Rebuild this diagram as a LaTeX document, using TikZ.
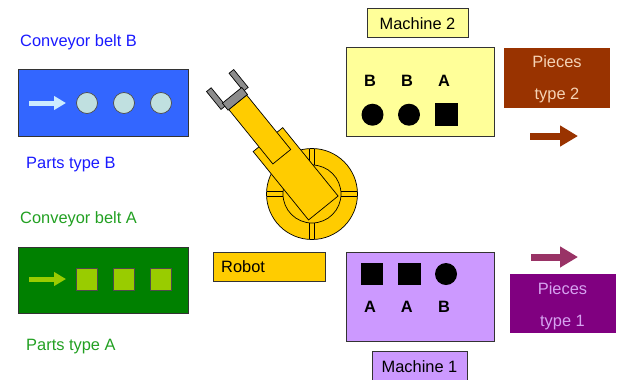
\documentclass[tikz,border=0pt]{standalone}
\usepackage{fontspec}
\setmainfont{Liberation Sans}
\usepackage{tikz}
\usetikzlibrary{arrows.meta}
\definecolor{beltB}{HTML}{3366FF}
\definecolor{partBcol}{HTML}{C0E0E0}
\definecolor{arrowB}{HTML}{CCECFF}
\definecolor{textB}{HTML}{1A1AFF}
\definecolor{beltA}{HTML}{008000}
\definecolor{partAcol}{HTML}{99CC00}
\definecolor{textA}{HTML}{22A022}
\definecolor{mach2}{HTML}{FFFF99}
\definecolor{mach1}{HTML}{CC99FF}
\definecolor{piece2}{HTML}{993300}
\definecolor{piece2txt}{HTML}{F5D3B5}
\definecolor{piece1}{HTML}{800080}
\definecolor{piece1txt}{HTML}{D6A3F0}
\definecolor{arrow1}{HTML}{993366}
\definecolor{robotcol}{HTML}{FFCC00}
\definecolor{grippercol}{HTML}{8C8C8C}
\tikzstyle{box}=[draw=black!80,line width=0.6pt]
\tikzstyle{txt}=[font=\fontsize{14}{16}\selectfont,inner sep=0]
\tikzstyle{letter}=[font=\bfseries\fontsize{14}{16}\selectfont,inner sep=0]
\tikzstyle{robot}=[draw=black,line width=0.6pt,fill=robotcol]
\tikzstyle{gripper}=[draw=black,line width=0.6pt,fill=grippercol]
\tikzstyle{partB}=[circle,draw=black!70,line width=0.6pt,fill=partBcol,
  minimum size=0.63cm,inner sep=0]
\tikzstyle{partA}=[rectangle,draw=black!70,line width=0.6pt,fill=partAcol,
  minimum size=0.64cm,inner sep=0]
\tikzstyle{round piece}=[circle,fill=black,minimum size=0.66cm,inner sep=0]
\tikzstyle{square piece}=[rectangle,fill=black,minimum size=0.68cm,inner sep=0]
\tikzset{
  beltarrow/.style={#1,line width=0.15cm,-{Triangle[length=0.36cm,width=0.4cm]}},
  piecearrow/.style={#1,line width=0.21cm,-{Triangle[length=0.54cm,width=0.6cm]}}}

\begin{document}
\begin{tikzpicture}[x=0.03cm,y=-0.03cm]
  \useasboundingbox (0,0) rectangle (617,379);
  \clip (0,0) rectangle (617,379);

  % CONVEYOR BELT B
  \node[txt,anchor=base west,textB] (beltBlbl) at (20,46) {Conveyor belt B};
  \draw[box,fill=beltB] (18,69) rectangle (188,136);
  \coordinate (aB0) at (29,103);
  \coordinate (aB1) at (66,103);
  \draw[beltarrow=arrowB] (aB0) -- (aB1);
  \foreach \x [count=\i] in {87,124,161}
    \node[partB] (pB\i) at (\x,103) {};
  \node[txt,anchor=base west,textB] (partsBlbl) at (26,168) {Parts type B};

  % CONVEYOR BELT A
  \node[txt,anchor=base west,textA] (beltAlbl) at (20,223) {Conveyor belt A};
  \draw[box,fill=beltA] (18,247) rectangle (188,313);
  \coordinate (aA0) at (29,279);
  \coordinate (aA1) at (66,279);
  \draw[beltarrow=partAcol] (aA0) -- (aA1);
  \foreach \x [count=\i] in {87,124,161}
    \node[partA] (pA\i) at (\x,279.5) {};
  \node[txt,anchor=base west,textA] (partsAlbl) at (26,350) {Parts type A};

  % ROBOT BASE
  \draw[robot] (312,194) circle (45.5);
  \draw[line width=0.6pt] (312,194) circle (29);
  \foreach \a in {0,90,180,270}
    \draw[line width=0.6pt,rotate around={\a:(312,194)}]
      (341,191.5) -- (357.4,191.5) (341,196.5) -- (357.4,196.5);

  % ARM AND GRIPPER
  \begin{scope}[shift={(312,194)},rotate=129]
    \draw[robot] (-18,-19) rectangle (70,19);
    \draw[robot] (48,-11.5) rectangle (118,11.5);
    \draw[gripper] (123,11.5) rectangle (146,17.5);
    \draw[gripper] (123,-17.5) rectangle (146,-11.5);
    \draw[gripper] (118,-12.5) rectangle (127,12.5);
  \end{scope}

  \draw[box,fill=robotcol] (213,252) rectangle (325,281);
  \node[txt,anchor=base west] (robotlbl) at (221,272.5) {Robot};

  % MACHINE 2
  \draw[box,fill=mach2] (367,8) rectangle (468,37);
  \node[txt] (m2lbl) at (417.5,23.5) {Machine 2};
  \draw[box,fill=mach2] (346,47) rectangle (494,136);
  \foreach \x/\t [count=\i] in {370/B,407/B,444/A}
    \node[letter] (m2l\i) at (\x,81) {\t};
  \node[round piece] (m2p1) at (372.5,114.7) {};
  \node[round piece] (m2p2) at (409,114.7) {};
  \node[square piece] (m2p3) at (446.3,114.7) {};

  % PIECES TYPE 2
  \fill[piece2] (504,48) rectangle (610,108);
  \node[txt,align=center,piece2txt,font=\fontsize{14}{27.5}\selectfont]
    (pc2lbl) at (557,79.5) {Pieces\\type 2};
  \coordinate (a20) at (530,136);
  \coordinate (a21) at (578,136);
  \draw[piecearrow=piece2] (a20) -- (a21);

  % MACHINE 1
  \draw[box,fill=mach1] (346,252) rectangle (494,341);
  \node[square piece] (m1p1) at (372,274) {};
  \node[square piece] (m1p2) at (409.5,274) {};
  \node[round piece] (m1p3) at (446,274) {};
  \foreach \x/\t [count=\i] in {370/A,406.7/A,444/B}
    \node[letter] (m1l\i) at (\x,307) {\t};
  \draw[box,fill=mach1] (372,351) rectangle (467,390);
  \node[txt] (m1lbl) at (419.5,367) {Machine 1};

  % PIECES TYPE 1
  \coordinate (a10) at (531,257);
  \coordinate (a11) at (578,257);
  \draw[piecearrow=arrow1] (a10) -- (a11);
  \fill[piece1] (510,274) rectangle (616,333);
  \node[txt,align=center,piece1txt,font=\fontsize{14}{27.5}\selectfont]
    (pc1lbl) at (562.5,306.2) {Pieces\\type 1};
\end{tikzpicture}
\end{document}
